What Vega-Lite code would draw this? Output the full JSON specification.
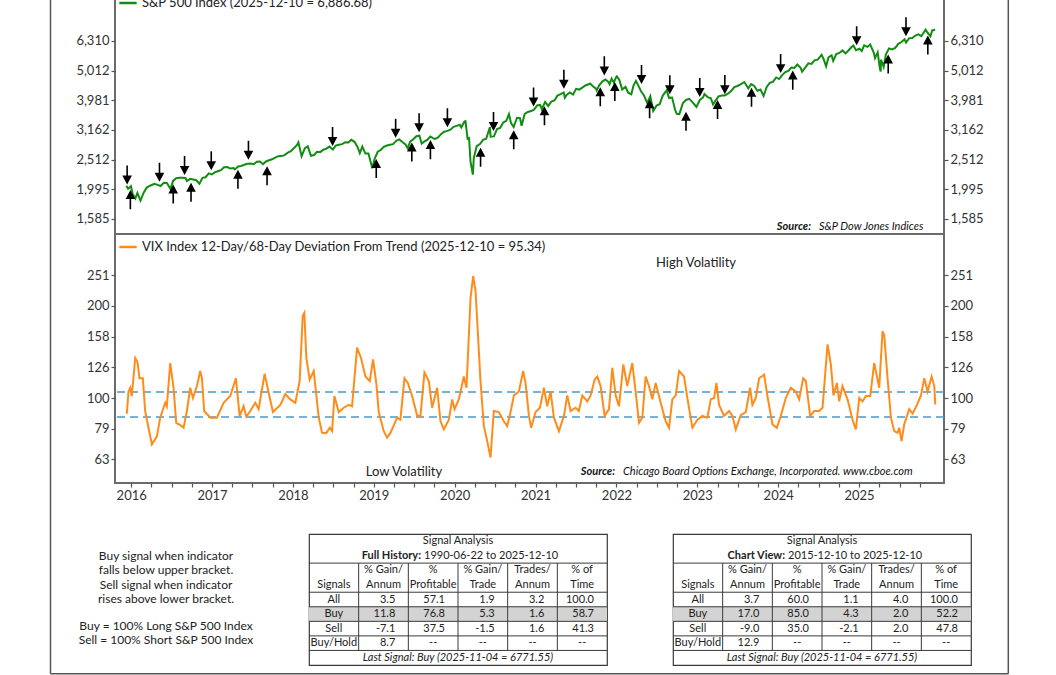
{
"$schema": "https://vega.github.io/schema/vega-lite/v6.json",
"padding": {"left": 48, "top": -12, "right": 0, "bottom": 0},
"autosize": {"type": "pad"},
"background": "white",
"config": {
  "font": "Lato",
  "view": {"stroke": "#6b6b6b", "strokeWidth": 2},
  "axis": {"domain": false, "grid": false, "labelFont": "Lato", "labelFontSize": 13, "labelColor": "#333", "tickColor": "#555", "tickSize": 4, "tickWidth": 1.2, "labelPadding": 2, "labelOverlap": false, "labelFlush": false, "labelBound": false},
  "legend": {"orient": "top-left", "offset": 3, "padding": 0, "labelFont": "Lato", "labelFontSize": 13, "labelColor": "#222", "labelLimit": 0, "symbolType": "stroke", "symbolSize": 300, "symbolStrokeWidth": 2.5},
  "text": {"font": "Lato", "color": "#222"}
},
"datasets": {
  "sp": [
{"t":2015.94,"v":2052},{"t":2015.962,"v":2005},{"t":2015.997,"v":2044},{"t":2016.019,"v":1922},{"t":2016.052,"v":1859},{"t":2016.077,"v":1940},{"t":2016.115,"v":1829},{"t":2016.156,"v":1948},{"t":2016.192,"v":2022},{"t":2016.247,"v":2060},{"t":2016.288,"v":2081},{"t":2016.326,"v":2065},{"t":2016.364,"v":2047},{"t":2016.403,"v":2099},{"t":2016.441,"v":2096},{"t":2016.486,"v":2001},{"t":2016.518,"v":2130},{"t":2016.556,"v":2175},{"t":2016.594,"v":2183},{"t":2016.633,"v":2184},{"t":2016.671,"v":2180},{"t":2016.69,"v":2128},{"t":2016.729,"v":2165},{"t":2016.767,"v":2153},{"t":2016.805,"v":2141},{"t":2016.844,"v":2085},{"t":2016.882,"v":2182},{"t":2016.92,"v":2192},{"t":2016.959,"v":2258},{"t":2016.997,"v":2239},
{"t":2017.033,"v":2275},{"t":2017.071,"v":2295},{"t":2017.11,"v":2316},{"t":2017.148,"v":2367},{"t":2017.189,"v":2373},{"t":2017.227,"v":2344},{"t":2017.266,"v":2355},{"t":2017.282,"v":2329},{"t":2017.323,"v":2384},{"t":2017.359,"v":2391},{"t":2017.4,"v":2416},{"t":2017.438,"v":2432},{"t":2017.477,"v":2438},{"t":2017.515,"v":2425},{"t":2017.553,"v":2473},{"t":2017.592,"v":2476},{"t":2017.63,"v":2426},{"t":2017.666,"v":2477},{"t":2017.704,"v":2500},{"t":2017.743,"v":2519},{"t":2017.781,"v":2553},{"t":2017.819,"v":2581},{"t":2017.858,"v":2582},{"t":2017.896,"v":2602},{"t":2017.937,"v":2652},{"t":2017.975,"v":2684},
{"t":2018.011,"v":2743},{"t":2018.049,"v":2810},{"t":2018.068,"v":2873},{"t":2018.107,"v":2581},{"t":2018.148,"v":2747},{"t":2018.184,"v":2786},{"t":2018.222,"v":2588},{"t":2018.261,"v":2604},{"t":2018.299,"v":2670},{"t":2018.337,"v":2663},{"t":2018.375,"v":2713},{"t":2018.414,"v":2735},{"t":2018.452,"v":2780},{"t":2018.493,"v":2718},{"t":2018.529,"v":2801},{"t":2018.567,"v":2819},{"t":2018.608,"v":2833},{"t":2018.647,"v":2875},{"t":2018.685,"v":2872},{"t":2018.721,"v":2930},{"t":2018.762,"v":2886},{"t":2018.8,"v":2768},{"t":2018.827,"v":2641},{"t":2018.858,"v":2781},{"t":2018.896,"v":2633},{"t":2018.934,"v":2633},{"t":2018.981,"v":2351},
{"t":2019.011,"v":2532},{"t":2019.049,"v":2671},{"t":2019.085,"v":2707},{"t":2019.123,"v":2776},{"t":2019.162,"v":2804},{"t":2019.2,"v":2822},{"t":2019.238,"v":2834},{"t":2019.277,"v":2907},{"t":2019.315,"v":2940},{"t":2019.353,"v":2881},{"t":2019.392,"v":2826},{"t":2019.419,"v":2744},{"t":2019.449,"v":2887},{"t":2019.488,"v":2942},{"t":2019.526,"v":3014},{"t":2019.564,"v":3026},{"t":2019.592,"v":2845},{"t":2019.622,"v":2889},{"t":2019.66,"v":2926},{"t":2019.699,"v":3007},{"t":2019.737,"v":2962},{"t":2019.756,"v":2952},{"t":2019.795,"v":2986},{"t":2019.833,"v":3067},{"t":2019.871,"v":3120},{"t":2019.91,"v":3141},{"t":2019.948,"v":3169},{"t":2019.986,"v":3240},
{"t":2020.025,"v":3265},{"t":2020.063,"v":3295},{"t":2020.082,"v":3226},{"t":2020.121,"v":3380},{"t":2020.134,"v":3386},{"t":2020.159,"v":2954},{"t":2020.178,"v":2972},{"t":2020.195,"v":2481},{"t":2020.206,"v":2386},{"t":2020.225,"v":2237},{"t":2020.236,"v":2541},{"t":2020.272,"v":2790},{"t":2020.312,"v":2837},{"t":2020.351,"v":2930},{"t":2020.389,"v":2955},{"t":2020.436,"v":3232},{"t":2020.444,"v":3002},{"t":2020.485,"v":3009},{"t":2020.523,"v":3185},{"t":2020.562,"v":3216},{"t":2020.6,"v":3351},{"t":2020.638,"v":3397},{"t":2020.671,"v":3580},{"t":2020.696,"v":3341},{"t":2020.729,"v":3237},{"t":2020.77,"v":3477},{"t":2020.808,"v":3465},{"t":2020.827,"v":3270},{"t":2020.866,"v":3585},{"t":2020.904,"v":3638},{"t":2020.945,"v":3663},{"t":2020.981,"v":3703},
{"t":2021.019,"v":3825},{"t":2021.058,"v":3841},{"t":2021.077,"v":3714},{"t":2021.118,"v":3934},{"t":2021.156,"v":3811},{"t":2021.195,"v":3943},{"t":2021.233,"v":3975},{"t":2021.271,"v":4129},{"t":2021.31,"v":4180},{"t":2021.348,"v":4233},{"t":2021.362,"v":4063},{"t":2021.386,"v":4156},{"t":2021.425,"v":4230},{"t":2021.463,"v":4166},{"t":2021.501,"v":4352},{"t":2021.54,"v":4327},{"t":2021.578,"v":4395},{"t":2021.616,"v":4468},{"t":2021.655,"v":4509},{"t":2021.674,"v":4535},{"t":2021.712,"v":4433},{"t":2021.748,"v":4357},{"t":2021.756,"v":4300},{"t":2021.786,"v":4471},{"t":2021.825,"v":4605},{"t":2021.863,"v":4682},{"t":2021.901,"v":4595},{"t":2021.915,"v":4513},{"t":2021.94,"v":4712},{"t":2021.967,"v":4568},{"t":2021.997,"v":4766},
{"t":2022.005,"v":4796},{"t":2022.036,"v":4663},{"t":2022.071,"v":4326},{"t":2022.112,"v":4418},{"t":2022.145,"v":4225},{"t":2022.184,"v":4170},{"t":2022.211,"v":4463},{"t":2022.241,"v":4631},{"t":2022.266,"v":4488},{"t":2022.304,"v":4272},{"t":2022.342,"v":4123},{"t":2022.381,"v":3901},{"t":2022.419,"v":4109},{"t":2022.455,"v":3667},{"t":2022.496,"v":3825},{"t":2022.534,"v":3863},{"t":2022.573,"v":4130},{"t":2022.622,"v":4305},{"t":2022.649,"v":4058},{"t":2022.688,"v":4067},{"t":2022.726,"v":3693},{"t":2022.745,"v":3586},{"t":2022.778,"v":3577},{"t":2022.822,"v":3901},{"t":2022.86,"v":3993},{"t":2022.899,"v":4026},{"t":2022.937,"v":3934},{"t":2022.989,"v":3783},
{"t":2023.033,"v":3999},{"t":2023.071,"v":4071},{"t":2023.088,"v":4180},{"t":2023.129,"v":4079},{"t":2023.167,"v":4046},{"t":2023.195,"v":3855},{"t":2023.225,"v":3971},{"t":2023.263,"v":4105},{"t":2023.304,"v":4133},{"t":2023.34,"v":4136},{"t":2023.378,"v":4192},{"t":2023.419,"v":4282},{"t":2023.458,"v":4410},{"t":2023.496,"v":4450},{"t":2023.534,"v":4505},{"t":2023.581,"v":4589},{"t":2023.63,"v":4370},{"t":2023.666,"v":4516},{"t":2023.704,"v":4450},{"t":2023.743,"v":4288},{"t":2023.781,"v":4327},{"t":2023.819,"v":4117},{"t":2023.858,"v":4415},{"t":2023.896,"v":4559},{"t":2023.937,"v":4604},{"t":2023.975,"v":4755},
{"t":2024.011,"v":4697},{"t":2024.049,"v":4840},{"t":2024.088,"v":4959},{"t":2024.126,"v":5006},{"t":2024.162,"v":5137},{"t":2024.2,"v":5117},{"t":2024.236,"v":5254},{"t":2024.277,"v":5123},{"t":2024.296,"v":4967},{"t":2024.334,"v":5128},{"t":2024.373,"v":5303},{"t":2024.411,"v":5278},{"t":2024.449,"v":5431},{"t":2024.488,"v":5460},{"t":2024.537,"v":5667},{"t":2024.564,"v":5459},{"t":2024.592,"v":5186},{"t":2024.622,"v":5554},{"t":2024.66,"v":5648},{"t":2024.68,"v":5408},{"t":2024.718,"v":5703},{"t":2024.756,"v":5751},{"t":2024.795,"v":5864},{"t":2024.833,"v":5729},{"t":2024.871,"v":5871},{"t":2024.91,"v":6032},{"t":2024.929,"v":6090},{"t":2024.962,"v":5872},
{"t":2025.005,"v":5942},{"t":2025.033,"v":5836},{"t":2025.063,"v":6101},{"t":2025.104,"v":6026},{"t":2025.137,"v":6144},{"t":2025.181,"v":5770},{"t":2025.197,"v":5522},{"t":2025.23,"v":5777},{"t":2025.258,"v":5074},{"t":2025.268,"v":4983},{"t":2025.271,"v":5457},{"t":2025.304,"v":5158},{"t":2025.332,"v":5687},{"t":2025.37,"v":5958},{"t":2025.409,"v":5912},{"t":2025.447,"v":5977},{"t":2025.485,"v":6173},{"t":2025.524,"v":6260},{"t":2025.562,"v":6389},{"t":2025.581,"v":6238},{"t":2025.619,"v":6450},{"t":2025.658,"v":6460},{"t":2025.696,"v":6584},{"t":2025.734,"v":6644},{"t":2025.77,"v":6553},{"t":2025.808,"v":6792},{"t":2025.822,"v":6890},{"t":2025.847,"v":6729},{"t":2025.882,"v":6538},{"t":2025.904,"v":6849},{"t":2025.94,"v":6887}
  ],
  "vix": [
{"t":2015.946,"v":88.9},{"t":2015.967,"v":105},{"t":2015.988,"v":108},{"t":2016.008,"v":101.5},{"t":2016.05,"v":135},{"t":2016.078,"v":131},{"t":2016.103,"v":116},{"t":2016.144,"v":116},{"t":2016.173,"v":90.7},{"t":2016.214,"v":80},{"t":2016.256,"v":70.7},{"t":2016.318,"v":75},{"t":2016.359,"v":86.3},{"t":2016.421,"v":96.5},{"t":2016.441,"v":94},{"t":2016.483,"v":130},{"t":2016.524,"v":108},{"t":2016.557,"v":83},{"t":2016.627,"v":81},{"t":2016.648,"v":80},{"t":2016.689,"v":90.7},{"t":2016.73,"v":108},{"t":2016.763,"v":100},{"t":2016.813,"v":109.4},{"t":2016.854,"v":122.5},{"t":2016.875,"v":116},{"t":2016.903,"v":90.7},{"t":2016.978,"v":86.3},
{"t":2017.06,"v":86.3},{"t":2017.143,"v":96.5},{"t":2017.225,"v":101.5},{"t":2017.295,"v":116},{"t":2017.341,"v":87.5},{"t":2017.39,"v":94},{"t":2017.423,"v":86.9},{"t":2017.473,"v":90.7},{"t":2017.535,"v":96.5},{"t":2017.576,"v":92},{"t":2017.65,"v":120},{"t":2017.7,"v":104},{"t":2017.753,"v":90},{"t":2017.844,"v":95},{"t":2017.906,"v":103},{"t":2017.968,"v":99},
{"t":2018.03,"v":96.5},{"t":2018.083,"v":113.6},{"t":2018.121,"v":185},{"t":2018.141,"v":189.5},{"t":2018.166,"v":135},{"t":2018.207,"v":114.8},{"t":2018.257,"v":122.5},{"t":2018.319,"v":86.3},{"t":2018.36,"v":77.1},{"t":2018.414,"v":77},{"t":2018.455,"v":80},{"t":2018.484,"v":78},{"t":2018.513,"v":101.5},{"t":2018.566,"v":90},{"t":2018.628,"v":93},{"t":2018.69,"v":95},{"t":2018.731,"v":94},{"t":2018.793,"v":146},{"t":2018.842,"v":135},{"t":2018.896,"v":117.5},{"t":2018.95,"v":113.6},{"t":2018.991,"v":133.6},
{"t":2019.032,"v":111},{"t":2019.061,"v":90},{"t":2019.123,"v":78},{"t":2019.164,"v":74.3},{"t":2019.206,"v":77},{"t":2019.288,"v":86.3},{"t":2019.329,"v":85},{"t":2019.379,"v":116},{"t":2019.42,"v":112},{"t":2019.474,"v":101.5},{"t":2019.536,"v":87.5},{"t":2019.577,"v":87.5},{"t":2019.626,"v":121},{"t":2019.68,"v":113.6},{"t":2019.721,"v":93},{"t":2019.783,"v":108},{"t":2019.824,"v":84.1},{"t":2019.866,"v":79},{"t":2019.928,"v":85},{"t":2019.969,"v":99},{"t":2019.998,"v":92},
{"t":2020.051,"v":99},{"t":2020.113,"v":117.5},{"t":2020.146,"v":108},{"t":2020.196,"v":212},{"t":2020.229,"v":249.6},{"t":2020.258,"v":223},{"t":2020.319,"v":113.6},{"t":2020.361,"v":81},{"t":2020.402,"v":72.4},{"t":2020.443,"v":64},{"t":2020.484,"v":90.7},{"t":2020.546,"v":90},{"t":2020.608,"v":84},{"t":2020.649,"v":81},{"t":2020.691,"v":90},{"t":2020.732,"v":102},{"t":2020.794,"v":105},{"t":2020.847,"v":122.5},{"t":2020.876,"v":112},{"t":2020.918,"v":87.5},{"t":2020.946,"v":80},
{"t":2021.0,"v":90},{"t":2021.054,"v":93},{"t":2021.103,"v":108},{"t":2021.144,"v":94},{"t":2021.186,"v":105},{"t":2021.227,"v":86.3},{"t":2021.289,"v":78},{"t":2021.351,"v":87.5},{"t":2021.392,"v":102},{"t":2021.433,"v":90.7},{"t":2021.495,"v":93},{"t":2021.536,"v":90.7},{"t":2021.578,"v":102},{"t":2021.639,"v":97.5},{"t":2021.681,"v":102},{"t":2021.73,"v":114.8},{"t":2021.763,"v":117.5},{"t":2021.804,"v":109.4},{"t":2021.854,"v":87.5},{"t":2021.908,"v":92},{"t":2021.949,"v":125.5},{"t":2021.99,"v":102},
{"t":2022.031,"v":94},{"t":2022.085,"v":128.7},{"t":2022.134,"v":109.4},{"t":2022.196,"v":130},{"t":2022.237,"v":105},{"t":2022.279,"v":83},{"t":2022.32,"v":86.3},{"t":2022.361,"v":117.5},{"t":2022.402,"v":109.4},{"t":2022.444,"v":99},{"t":2022.485,"v":112},{"t":2022.547,"v":96.5},{"t":2022.609,"v":84},{"t":2022.65,"v":80},{"t":2022.691,"v":99},{"t":2022.733,"v":102},{"t":2022.774,"v":122.5},{"t":2022.836,"v":117.5},{"t":2022.877,"v":100},{"t":2022.939,"v":80},
{"t":2023.001,"v":85},{"t":2023.063,"v":87.5},{"t":2023.124,"v":86.3},{"t":2023.166,"v":99},{"t":2023.207,"v":100},{"t":2023.236,"v":112},{"t":2023.269,"v":95},{"t":2023.331,"v":87.5},{"t":2023.393,"v":90.7},{"t":2023.434,"v":87.5},{"t":2023.475,"v":79},{"t":2023.537,"v":88},{"t":2023.599,"v":90},{"t":2023.653,"v":108},{"t":2023.681,"v":95},{"t":2023.723,"v":100},{"t":2023.764,"v":116},{"t":2023.826,"v":119},{"t":2023.867,"v":101.5},{"t":2023.929,"v":82},{"t":2023.983,"v":80},
{"t":2024.032,"v":87.5},{"t":2024.094,"v":100},{"t":2024.156,"v":108},{"t":2024.218,"v":105},{"t":2024.259,"v":99},{"t":2024.309,"v":116},{"t":2024.342,"v":113.6},{"t":2024.395,"v":87.5},{"t":2024.445,"v":90.7},{"t":2024.507,"v":90.7},{"t":2024.548,"v":93},{"t":2024.61,"v":149.5},{"t":2024.651,"v":128.7},{"t":2024.684,"v":102},{"t":2024.725,"v":112},{"t":2024.754,"v":97.5},{"t":2024.795,"v":109.4},{"t":2024.857,"v":99},{"t":2024.919,"v":85},{"t":2024.96,"v":79},
{"t":2025.002,"v":100},{"t":2025.043,"v":97.5},{"t":2025.084,"v":101.5},{"t":2025.138,"v":101.5},{"t":2025.187,"v":130},{"t":2025.249,"v":108},{"t":2025.29,"v":165},{"t":2025.311,"v":160},{"t":2025.352,"v":116},{"t":2025.394,"v":86.3},{"t":2025.435,"v":78},{"t":2025.476,"v":77},{"t":2025.497,"v":80},{"t":2025.525,"v":72.4},{"t":2025.558,"v":82},{"t":2025.62,"v":92},{"t":2025.662,"v":89},{"t":2025.715,"v":95},{"t":2025.765,"v":102},{"t":2025.806,"v":116},{"t":2025.847,"v":105},{"t":2025.897,"v":117.5},{"t":2025.93,"v":109.4},{"t":2025.942,"v":95.3}
  ],
  "sig": [
{"t":2015.95,"p":2012,"s":"Sell"},{"t":2016.35,"p":2057,"s":"Sell"},{"t":2016.66,"p":2169,"s":"Sell"},{"t":2016.99,"p":2249,"s":"Sell"},{"t":2017.45,"p":2440,"s":"Sell"},{"t":2018.49,"p":2716,"s":"Sell"},{"t":2019.27,"p":2895,"s":"Sell"},{"t":2019.56,"p":3019,"s":"Sell"},{"t":2019.91,"p":3141,"s":"Sell"},{"t":2020.48,"p":3050,"s":"Sell"},{"t":2020.975,"p":3687,"s":"Sell"},{"t":2021.35,"p":4232,"s":"Sell"},{"t":2021.85,"p":4697,"s":"Sell"},{"t":2022.31,"p":4393,"s":"Sell"},{"t":2022.66,"p":4058,"s":"Sell"},{"t":2023.03,"p":3969,"s":"Sell"},{"t":2023.34,"p":4061,"s":"Sell"},{"t":2024.03,"p":4780,"s":"Sell"},{"t":2024.97,"p":5930,"s":"Sell"},{"t":2025.58,"p":6362,"s":"Sell"},
{"t":2015.99,"p":2040,"s":"Buy"},{"t":2016.52,"p":2130,"s":"Buy"},{"t":2016.74,"p":2160,"s":"Buy"},{"t":2017.32,"p":2388,"s":"Buy"},{"t":2017.68,"p":2457,"s":"Buy"},{"t":2019.03,"p":2596,"s":"Buy"},{"t":2019.47,"p":2954,"s":"Buy"},{"t":2019.7,"p":3007,"s":"Buy"},{"t":2020.32,"p":2836,"s":"Buy"},{"t":2020.73,"p":3247,"s":"Buy"},{"t":2021.11,"p":3910,"s":"Buy"},{"t":2021.8,"p":4536,"s":"Buy"},{"t":2021.98,"p":4725,"s":"Buy"},{"t":2022.41,"p":4132,"s":"Buy"},{"t":2022.86,"p":3749,"s":"Buy"},{"t":2023.25,"p":4109,"s":"Buy"},{"t":2023.67,"p":4516,"s":"Buy"},{"t":2024.18,"p":5157,"s":"Buy"},{"t":2025.36,"p":5844,"s":"Buy"},{"t":2025.85,"p":6772,"s":"Buy"}
  ],
  "t1": [
{"row":"h2","col":"c1","txt":"Signals","al":"c"},{"row":"h1","col":"c2","txt":"% Gain/","al":"c"},{"row":"h2","col":"c2","txt":"Annum","al":"c"},{"row":"h1","col":"c3","txt":"%","al":"c"},{"row":"h2","col":"c3","txt":"Profitable","al":"c"},{"row":"h1","col":"c4","txt":"% Gain/","al":"c"},{"row":"h2","col":"c4","txt":"Trade","al":"c"},{"row":"h1","col":"c5","txt":"Trades/","al":"c"},{"row":"h2","col":"c5","txt":"Annum","al":"c"},{"row":"h1","col":"c6","txt":"% of","al":"c"},{"row":"h2","col":"c6","txt":"Time","al":"c"},
{"row":"r1","col":"c1","txt":"All","al":"c"},{"row":"r1","col":"c2","txt":"3.5","al":"r"},{"row":"r1","col":"c3","txt":"57.1","al":"r"},{"row":"r1","col":"c4","txt":"1.9","al":"r"},{"row":"r1","col":"c5","txt":"3.2","al":"r"},{"row":"r1","col":"c6","txt":"100.0","al":"r"},
{"row":"r2","col":"c1","txt":"Buy","al":"c","shade":true},{"row":"r2","col":"c2","txt":"11.8","al":"r","shade":true},{"row":"r2","col":"c3","txt":"76.8","al":"r","shade":true},{"row":"r2","col":"c4","txt":"5.3","al":"r","shade":true},{"row":"r2","col":"c5","txt":"1.6","al":"r","shade":true},{"row":"r2","col":"c6","txt":"58.7","al":"r","shade":true},
{"row":"r3","col":"c1","txt":"Sell","al":"c"},{"row":"r3","col":"c2","txt":"-7.1","al":"r"},{"row":"r3","col":"c3","txt":"37.5","al":"r"},{"row":"r3","col":"c4","txt":"-1.5","al":"r"},{"row":"r3","col":"c5","txt":"1.6","al":"r"},{"row":"r3","col":"c6","txt":"41.3","al":"r"},
{"row":"r4","col":"c1","txt":"Buy/Hold","al":"c"},{"row":"r4","col":"c2","txt":"8.7","al":"r"},{"row":"r4","col":"c3","txt":"--","al":"c"},{"row":"r4","col":"c4","txt":"--","al":"c"},{"row":"r4","col":"c5","txt":"--","al":"c"},{"row":"r4","col":"c6","txt":"--","al":"c"}
  ],
  "t2": [
{"row":"h2","col":"c1","txt":"Signals","al":"c"},{"row":"h1","col":"c2","txt":"% Gain/","al":"c"},{"row":"h2","col":"c2","txt":"Annum","al":"c"},{"row":"h1","col":"c3","txt":"%","al":"c"},{"row":"h2","col":"c3","txt":"Profitable","al":"c"},{"row":"h1","col":"c4","txt":"% Gain/","al":"c"},{"row":"h2","col":"c4","txt":"Trade","al":"c"},{"row":"h1","col":"c5","txt":"Trades/","al":"c"},{"row":"h2","col":"c5","txt":"Annum","al":"c"},{"row":"h1","col":"c6","txt":"% of","al":"c"},{"row":"h2","col":"c6","txt":"Time","al":"c"},
{"row":"r1","col":"c1","txt":"All","al":"c"},{"row":"r1","col":"c2","txt":"3.7","al":"r"},{"row":"r1","col":"c3","txt":"60.0","al":"r"},{"row":"r1","col":"c4","txt":"1.1","al":"r"},{"row":"r1","col":"c5","txt":"4.0","al":"r"},{"row":"r1","col":"c6","txt":"100.0","al":"r"},
{"row":"r2","col":"c1","txt":"Buy","al":"c","shade":true},{"row":"r2","col":"c2","txt":"17.0","al":"r","shade":true},{"row":"r2","col":"c3","txt":"85.0","al":"r","shade":true},{"row":"r2","col":"c4","txt":"4.3","al":"r","shade":true},{"row":"r2","col":"c5","txt":"2.0","al":"r","shade":true},{"row":"r2","col":"c6","txt":"52.2","al":"r","shade":true},
{"row":"r3","col":"c1","txt":"Sell","al":"c"},{"row":"r3","col":"c2","txt":"-9.0","al":"r"},{"row":"r3","col":"c3","txt":"35.0","al":"r"},{"row":"r3","col":"c4","txt":"-2.1","al":"r"},{"row":"r3","col":"c5","txt":"2.0","al":"r"},{"row":"r3","col":"c6","txt":"47.8","al":"r"},
{"row":"r4","col":"c1","txt":"Buy/Hold","al":"c"},{"row":"r4","col":"c2","txt":"12.9","al":"r"},{"row":"r4","col":"c3","txt":"--","al":"c"},{"row":"r4","col":"c4","txt":"--","al":"c"},{"row":"r4","col":"c5","txt":"--","al":"c"},{"row":"r4","col":"c6","txt":"--","al":"c"}
  ]
},
"bounds": "flush",
"spacing": 0,
"resolve": {"scale": {"color": "independent"}, "legend": {"color": "independent"}},
"vconcat": [
   {
    "width": 829, "height": 244,
    "resolve": {"axis": {"x": "independent", "y": "independent"}},
    "layer": [
     {"data": {"values": [{}]}, "mark": {"type": "rule", "color": "#555", "strokeWidth": 1.5},
      "encoding": {"x": {"datum": 2015.0025, "type": "quantitative", "scale": {"domain": [2015.8, 2026.05], "nice": false, "zero": false}, "axis": null},
                   "y": {"datum": 9373, "type": "quantitative", "scale": {"type": "log", "domain": [1410.7, 9373], "nice": false}, "axis": null},
                   "y2": {"datum": 46.5}}},
     {"data": {"values": [{}]}, "mark": {"type": "rule", "color": "#555", "strokeWidth": 1.5},
      "encoding": {"x": {"datum": 2026.845, "type": "quantitative", "axis": null},
                   "y": {"datum": 9373, "type": "quantitative", "axis": null},
                   "y2": {"datum": 46.5}}},
     {"data": {"values": [{}]}, "mark": {"type": "rule", "color": "#555", "strokeWidth": 1.5},
      "encoding": {"x": {"datum": 2015.0025, "type": "quantitative", "axis": null},
                   "x2": {"datum": 2026.845},
                   "y": {"datum": 46.5, "type": "quantitative", "axis": null}}},
     {"data": {"name": "sp"}, "mark": {"type": "line", "strokeWidth": 2},
      "encoding": {"x": {"field": "t", "type": "quantitative", "axis": null},
                   "y": {"field": "v", "type": "quantitative", "axis": {"orient": "left", "title": null, "values": [1584.9, 1995.3, 2511.9, 3162.3, 3981.1, 5011.9, 6309.6], "format": ",.0f"}},
                   "color": {"datum": "S&P 500 Index (2025-12-10 = 6,886.68)", "type": "nominal", "scale": {"range": ["#128c12"]}, "legend": {"title": null}}}},
     {"data": {"name": "sig"}, "transform": [{"filter": "datum.s === 'Sell'"}],
      "mark": {"type": "point", "shape": "M0,-1V0.35M-0.4,0.25L0,1L0.4,0.25Z", "filled": true, "fill": "#000", "stroke": "#000", "strokeWidth": 1.6, "size": 300, "opacity": 1, "yOffset": -14},
      "encoding": {"x": {"field": "t", "type": "quantitative", "axis": null},
                   "y": {"field": "p", "type": "quantitative", "axis": {"orient": "right", "title": null, "values": [1584.9, 1995.3, 2511.9, 3162.3, 3981.1, 5011.9, 6309.6], "format": ",.0f"}}}},
     {"data": {"name": "sig"}, "transform": [{"filter": "datum.s === 'Buy'"}],
      "mark": {"type": "point", "shape": "M0,1V-0.35M-0.4,-0.25L0,-1L0.4,-0.25Z", "filled": true, "fill": "#000", "stroke": "#000", "strokeWidth": 1.6, "size": 300, "opacity": 1, "yOffset": 14},
      "encoding": {"x": {"field": "t", "type": "quantitative", "axis": null},
                   "y": {"field": "p", "type": "quantitative", "axis": null}}},
     {"data": {"values": [{"a": "Source:"}]}, "mark": {"type": "text", "fontSize": 11, "fontStyle": "italic", "fontWeight": "bold", "align": "right", "baseline": "middle", "color": "#111"},
      "encoding": {"x": {"datum": 2024.406, "type": "quantitative", "axis": null}, "y": {"datum": 1489, "type": "quantitative", "axis": null}, "text": {"field": "a"}}},
     {"data": {"values": [{"a": "S&P Dow Jones Indices"}]}, "mark": {"type": "text", "fontSize": 11, "fontStyle": "italic", "align": "left", "baseline": "middle", "color": "#111"},
      "encoding": {"x": {"datum": 2024.504, "type": "quantitative", "axis": null}, "y": {"datum": 1489, "type": "quantitative", "axis": null}, "text": {"field": "a"}}}
    ]
   },
   {
    "width": 829, "height": 249,
    "resolve": {"axis": {"x": "independent", "y": "independent"}},
    "layer": [
     {"data": {"values": [{"b": 104.6}, {"b": 86.7}]}, "mark": {"type": "rule", "color": "#4a98c9", "strokeWidth": 1.5, "strokeDash": [8, 5]},
      "encoding": {"y": {"field": "b", "type": "quantitative", "scale": {"type": "log", "domain": [52.88, 342.1], "nice": false}, "axis": {"orient": "right", "title": null, "values": [63.096, 79.433, 100, 125.89, 158.49, 199.53, 251.19], "format": ".0f"}}}},
     {"data": {"name": "vix"}, "mark": {"type": "line", "strokeWidth": 2},
      "encoding": {"x": {"field": "t", "type": "quantitative", "scale": {"domain": [2015.8, 2026.05], "nice": false, "zero": false},
                         "axis": {"orient": "bottom", "title": null, "values": [2016,2016.25,2016.5,2016.75,2017,2017.25,2017.5,2017.75,2018,2018.25,2018.5,2018.75,2019,2019.25,2019.5,2019.75,2020,2020.25,2020.5,2020.75,2021,2021.25,2021.5,2021.75,2022,2022.25,2022.5,2022.75,2023,2023.25,2023.5,2023.75,2024,2024.25,2024.5,2024.75,2025,2025.25,2025.5,2025.75], "labelExpr": "datum.value % 1 === 0 ? format(datum.value, 'd') : ''"}},
                   "y": {"field": "v", "type": "quantitative", "axis": {"orient": "left", "title": null, "values": [63.096, 79.433, 100, 125.89, 158.49, 199.53, 251.19], "format": ".0f"}},
                   "color": {"datum": "VIX Index 12-Day/68-Day Deviation From Trend (2025-12-10 = 95.34)", "type": "nominal", "scale": {"range": ["#ff8c1a"]}, "legend": {"title": null}}}},
     {"data": {"values": [{"a": "High Volatility"}]}, "mark": {"type": "text", "fontSize": 13, "align": "center", "baseline": "middle"},
      "encoding": {"x": {"datum": 2022.984, "type": "quantitative", "axis": null}, "y": {"datum": 275.3, "type": "quantitative", "axis": null}, "text": {"field": "a"}}},
     {"data": {"values": [{"a": "Low Volatility"}]}, "mark": {"type": "text", "fontSize": 13, "align": "center", "baseline": "middle"},
      "encoding": {"x": {"datum": 2019.373, "type": "quantitative", "axis": null}, "y": {"datum": 57.4, "type": "quantitative", "axis": null}, "text": {"field": "a"}}},
     {"data": {"values": [{"a": "Source:"}]}, "mark": {"type": "text", "fontSize": 11, "fontStyle": "italic", "fontWeight": "bold", "align": "right", "baseline": "middle", "color": "#111"},
      "encoding": {"x": {"datum": 2021.982, "type": "quantitative", "axis": null}, "y": {"datum": 57.4, "type": "quantitative", "axis": null}, "text": {"field": "a"}}},
     {"data": {"values": [{"a": "Chicago Board Options Exchange, Incorporated. www.cboe.com"}]}, "mark": {"type": "text", "fontSize": 11, "fontStyle": "italic", "align": "left", "baseline": "middle", "color": "#111"},
      "encoding": {"x": {"datum": 2022.081, "type": "quantitative", "axis": null}, "y": {"datum": 57.4, "type": "quantitative", "axis": null}, "text": {"field": "a"}}}
    ]
   },
   {
    "width": 829, "height": 51,
    "view": {"stroke": null},
    "data": {"values": [{"a": ""}]},
    "mark": {"type": "text"},
    "encoding": {"text": {"field": "a"}}
   },
 {
  "bounds": "flush",
  "spacing": 66,
  "hconcat": [
   {
    "width": 128, "height": 131,
    "view": {"stroke": null},
    "layer": [
     {"data": {"values": [{"n": "Buy signal when indicator\nfalls below upper bracket.\nSell signal when indicator\nrises above lower bracket."}]},
      "mark": {"type": "text", "fontSize": 12, "lineBreak": "\n", "lineHeight": 14.3, "align": "center", "baseline": "middle", "dx": -13, "color": "#222"},
      "encoding": {"x": {"datum": 0.5, "type": "quantitative", "scale": {"domain": [0, 1], "nice": false, "zero": false}, "axis": null},
                   "y": {"datum": 0.832, "type": "quantitative", "scale": {"domain": [0, 1], "nice": false, "zero": false}, "axis": null},
                   "text": {"field": "n"}}},
     {"data": {"values": [{"n": "Buy = 100% Long S&P 500 Index\nSell = 100% Short S&P 500 Index"}]},
      "mark": {"type": "text", "fontSize": 12, "lineBreak": "\n", "lineHeight": 14.3, "align": "center", "baseline": "middle", "dx": -13, "color": "#222"},
      "encoding": {"x": {"datum": 0.5, "type": "quantitative", "axis": null},
                   "y": {"datum": 0.298, "type": "quantitative", "axis": null},
                   "text": {"field": "n"}}}
    ]
   },
   {
    "width": 298, "height": 131,
    "view": {"stroke": "#3a3a3a", "strokeWidth": 1.2},
    "resolve": {"scale": {"y": "independent"}},
    "layer": [
     {"data": {"name": "t1"}, "transform": [{"filter": "datum.shade"}], "mark": {"type": "rect", "color": "#d3d3d3"},
      "encoding": {"x": {"field": "col", "type": "nominal", "scale": {"domain": ["c1","c2","c3","c4","c5","c6"], "paddingInner": 0, "paddingOuter": 0}, "axis": null},
                   "y": {"field": "row", "type": "nominal", "scale": {"domain": ["t1","t2","h1","h2","r1","r2","r3","r4","f"], "paddingInner": 0, "paddingOuter": 0}, "axis": null}}},
     {"data": {"values": [{"row": "h1"}, {"row": "r1"}, {"row": "r2"}, {"row": "r3"}, {"row": "r4"}, {"row": "f"}]}, "mark": {"type": "rule", "color": "#3a3a3a", "strokeWidth": 1},
      "encoding": {"y": {"field": "row", "type": "nominal", "bandPosition": 0, "scale": {"domain": ["t1","t2","h1","h2","r1","r2","r3","r4","f"], "paddingInner": 0, "paddingOuter": 0}, "axis": null}}},
     {"data": {"values": [{"col": "c2"}, {"col": "c3"}, {"col": "c4"}, {"col": "c5"}, {"col": "c6"}]}, "mark": {"type": "rule", "color": "#3a3a3a", "strokeWidth": 1},
      "encoding": {"x": {"field": "col", "type": "nominal", "bandPosition": 0, "axis": null},
                   "y": {"datum": 2, "type": "quantitative", "scale": {"domain": [9, 0], "nice": false, "zero": false}, "axis": null},
                   "y2": {"datum": 8}}},
     {"data": {"name": "t1"}, "transform": [{"filter": "datum.al === 'c'"}], "mark": {"type": "text", "fontSize": 11, "align": "center", "baseline": "middle"},
      "encoding": {"x": {"field": "col", "type": "nominal", "axis": null},
                   "y": {"field": "row", "type": "nominal", "scale": {"domain": ["t1","t2","h1","h2","r1","r2","r3","r4","f"], "paddingInner": 0, "paddingOuter": 0}, "axis": null},
                   "text": {"field": "txt"}}},
     {"data": {"name": "t1"}, "transform": [{"filter": "datum.al === 'r'"}], "mark": {"type": "text", "fontSize": 11, "align": "right", "baseline": "middle", "dx": -13},
      "encoding": {"x": {"field": "col", "type": "nominal", "bandPosition": 1, "axis": null},
                   "y": {"field": "row", "type": "nominal", "scale": {"domain": ["t1","t2","h1","h2","r1","r2","r3","r4","f"], "paddingInner": 0, "paddingOuter": 0}, "axis": null},
                   "text": {"field": "txt"}}},
     {"data": {"values": [{"row": "t1", "col": "c4", "txt": "Signal Analysis"}]}, "mark": {"type": "text", "fontSize": 11, "align": "center", "baseline": "middle"},
      "encoding": {"x": {"field": "col", "type": "nominal", "bandPosition": 0, "axis": null}, "y": {"field": "row", "type": "nominal", "scale": {"domain": ["t1","t2","h1","h2","r1","r2","r3","r4","f"], "paddingInner": 0, "paddingOuter": 0}, "axis": null}, "text": {"field": "txt"}}},
     {"data": {"values": [{"row": "f", "col": "c4", "txt": "Last Signal: Buy (2025-11-04 = 6771.55)"}]}, "mark": {"type": "text", "fontSize": 11, "fontStyle": "italic", "align": "center", "baseline": "middle"},
      "encoding": {"x": {"field": "col", "type": "nominal", "bandPosition": 0, "axis": null}, "y": {"field": "row", "type": "nominal", "scale": {"domain": ["t1","t2","h1","h2","r1","r2","r3","r4","f"], "paddingInner": 0, "paddingOuter": 0}, "axis": null}, "text": {"field": "txt"}}},
     {"data": {"values": [{"row": "t2", "col": "c4", "txt": "Full History:"}]}, "mark": {"type": "text", "fontSize": 11, "fontWeight": "bold", "align": "right", "baseline": "middle", "dx": -37},
      "encoding": {"x": {"field": "col", "type": "nominal", "bandPosition": 0, "axis": null}, "y": {"field": "row", "type": "nominal", "scale": {"domain": ["t1","t2","h1","h2","r1","r2","r3","r4","f"], "paddingInner": 0, "paddingOuter": 0}, "axis": null}, "text": {"field": "txt"}}},
     {"data": {"values": [{"row": "t2", "col": "c4", "txt": "1990-06-22 to 2025-12-10"}]}, "mark": {"type": "text", "fontSize": 11, "align": "left", "baseline": "middle", "dx": -34},
      "encoding": {"x": {"field": "col", "type": "nominal", "bandPosition": 0, "axis": null}, "y": {"field": "row", "type": "nominal", "scale": {"domain": ["t1","t2","h1","h2","r1","r2","r3","r4","f"], "paddingInner": 0, "paddingOuter": 0}, "axis": null}, "text": {"field": "txt"}}}
    ]
   },
   {
    "width": 298, "height": 131,
    "view": {"stroke": "#3a3a3a", "strokeWidth": 1.2},
    "resolve": {"scale": {"y": "independent"}},
    "layer": [
     {"data": {"name": "t2"}, "transform": [{"filter": "datum.shade"}], "mark": {"type": "rect", "color": "#d3d3d3"},
      "encoding": {"x": {"field": "col", "type": "nominal", "scale": {"domain": ["c1","c2","c3","c4","c5","c6"], "paddingInner": 0, "paddingOuter": 0}, "axis": null},
                   "y": {"field": "row", "type": "nominal", "scale": {"domain": ["t1","t2","h1","h2","r1","r2","r3","r4","f"], "paddingInner": 0, "paddingOuter": 0}, "axis": null}}},
     {"data": {"values": [{"row": "h1"}, {"row": "r1"}, {"row": "r2"}, {"row": "r3"}, {"row": "r4"}, {"row": "f"}]}, "mark": {"type": "rule", "color": "#3a3a3a", "strokeWidth": 1},
      "encoding": {"y": {"field": "row", "type": "nominal", "bandPosition": 0, "scale": {"domain": ["t1","t2","h1","h2","r1","r2","r3","r4","f"], "paddingInner": 0, "paddingOuter": 0}, "axis": null}}},
     {"data": {"values": [{"col": "c2"}, {"col": "c3"}, {"col": "c4"}, {"col": "c5"}, {"col": "c6"}]}, "mark": {"type": "rule", "color": "#3a3a3a", "strokeWidth": 1},
      "encoding": {"x": {"field": "col", "type": "nominal", "bandPosition": 0, "axis": null},
                   "y": {"datum": 2, "type": "quantitative", "scale": {"domain": [9, 0], "nice": false, "zero": false}, "axis": null},
                   "y2": {"datum": 8}}},
     {"data": {"name": "t2"}, "transform": [{"filter": "datum.al === 'c'"}], "mark": {"type": "text", "fontSize": 11, "align": "center", "baseline": "middle"},
      "encoding": {"x": {"field": "col", "type": "nominal", "axis": null},
                   "y": {"field": "row", "type": "nominal", "scale": {"domain": ["t1","t2","h1","h2","r1","r2","r3","r4","f"], "paddingInner": 0, "paddingOuter": 0}, "axis": null},
                   "text": {"field": "txt"}}},
     {"data": {"name": "t2"}, "transform": [{"filter": "datum.al === 'r'"}], "mark": {"type": "text", "fontSize": 11, "align": "right", "baseline": "middle", "dx": -13},
      "encoding": {"x": {"field": "col", "type": "nominal", "bandPosition": 1, "axis": null},
                   "y": {"field": "row", "type": "nominal", "scale": {"domain": ["t1","t2","h1","h2","r1","r2","r3","r4","f"], "paddingInner": 0, "paddingOuter": 0}, "axis": null},
                   "text": {"field": "txt"}}},
     {"data": {"values": [{"row": "t1", "col": "c4", "txt": "Signal Analysis"}]}, "mark": {"type": "text", "fontSize": 11, "align": "center", "baseline": "middle"},
      "encoding": {"x": {"field": "col", "type": "nominal", "bandPosition": 0, "axis": null}, "y": {"field": "row", "type": "nominal", "scale": {"domain": ["t1","t2","h1","h2","r1","r2","r3","r4","f"], "paddingInner": 0, "paddingOuter": 0}, "axis": null}, "text": {"field": "txt"}}},
     {"data": {"values": [{"row": "f", "col": "c4", "txt": "Last Signal: Buy (2025-11-04 = 6771.55)"}]}, "mark": {"type": "text", "fontSize": 11, "fontStyle": "italic", "align": "center", "baseline": "middle"},
      "encoding": {"x": {"field": "col", "type": "nominal", "bandPosition": 0, "axis": null}, "y": {"field": "row", "type": "nominal", "scale": {"domain": ["t1","t2","h1","h2","r1","r2","r3","r4","f"], "paddingInner": 0, "paddingOuter": 0}, "axis": null}, "text": {"field": "txt"}}},
     {"data": {"values": [{"row": "t2", "col": "c4", "txt": "Chart View:"}]}, "mark": {"type": "text", "fontSize": 11, "fontWeight": "bold", "align": "right", "baseline": "middle", "dx": -37},
      "encoding": {"x": {"field": "col", "type": "nominal", "bandPosition": 0, "axis": null}, "y": {"field": "row", "type": "nominal", "scale": {"domain": ["t1","t2","h1","h2","r1","r2","r3","r4","f"], "paddingInner": 0, "paddingOuter": 0}, "axis": null}, "text": {"field": "txt"}}},
     {"data": {"values": [{"row": "t2", "col": "c4", "txt": "2015-12-10 to 2025-12-10"}]}, "mark": {"type": "text", "fontSize": 11, "align": "left", "baseline": "middle", "dx": -34},
      "encoding": {"x": {"field": "col", "type": "nominal", "bandPosition": 0, "axis": null}, "y": {"field": "row", "type": "nominal", "scale": {"domain": ["t1","t2","h1","h2","r1","r2","r3","r4","f"], "paddingInner": 0, "paddingOuter": 0}, "axis": null}, "text": {"field": "txt"}}}
    ]
   }
  ]
 }
]
}
